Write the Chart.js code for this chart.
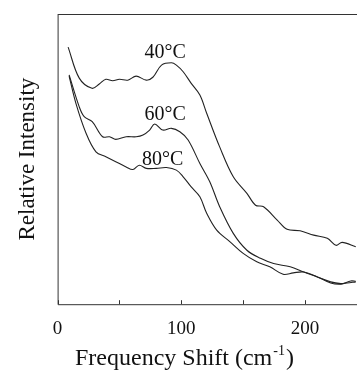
<!DOCTYPE html>
<html>
<head>
<meta charset="utf-8">
<script src="https://cdn.jsdelivr.net/npm/chart.js@4"></script>
<style>
  html, body { margin: 0; padding: 0; background: #fff; }
  #wrap { width: 357px; height: 375px; }
</style>
</head>
<body>
<div id="wrap"><canvas id="ramanChart"></canvas></div>
<script>
// Raman low-frequency spectra at three temperatures
const freq40 = [8.5, 17.5, 27.8, 33.7, 39, 44.5, 50, 56.7, 63.5, 71.7, 77, 84, 92, 96, 101.5, 108, 115, 120.5, 131, 142, 153, 160, 166.5, 177.5, 185.5, 196, 207, 218, 225, 230, 241];
const int40 = [88.6, 77.9, 74.4, 75.9, 77.5, 77.0, 77.5, 77.2, 78.6, 77.2, 78.2, 82.4, 83.2, 82.4, 80.1, 76.1, 72.1, 65.8, 54.2, 43.9, 38.2, 34.1, 33.6, 29.0, 25.8, 25.3, 23.8, 22.7, 20.3, 21.3, 19.8];

const freq60 = [9.3, 17.5, 21.5, 28, 36.4, 42, 47, 55.4, 63.5, 69, 74.4, 78.5, 85, 92, 98.8, 105.5, 115, 123, 131, 142, 153, 164, 174.6, 188, 199, 210, 220.7, 228.9, 234, 241];
const int60 = [79.0, 68.0, 64.6, 62.9, 57.7, 57.7, 56.8, 57.7, 57.7, 58.3, 60.0, 62.1, 60.0, 60.6, 59.4, 56.6, 48.5, 42.2, 33.6, 24.4, 18.6, 15.8, 14.0, 12.9, 11.1, 9.4, 7.7, 7.1, 7.3, 7.7];

const freq80 = [9.3, 14.8, 23, 31, 39, 47, 55.4, 60.8, 66, 71.7, 79.7, 88, 96, 101.5, 108, 115, 120.5, 128.6, 139.4, 150, 161, 171.5, 182.3, 190.5, 199, 210, 220.7, 229, 237, 241];
const int80 = [78.6, 69.2, 58.9, 52.5, 50.8, 49.1, 47.3, 46.4, 47.9, 46.8, 46.8, 47.1, 46.2, 43.9, 40.4, 37.0, 31.3, 25.5, 21.5, 17.5, 14.6, 12.9, 10.3, 10.8, 11.1, 9.4, 7.3, 6.9, 8.0, 7.9];

const seriesNames = ['40°C', '60°C', '80°C'];
// where each curve label sits, in data units
const labelFreq = [87, 87, 85];
const labelInt = [86.6, 65.2, 49.7];

const serif = '"Liberation Serif", "Times New Roman", serif';

function toPoints(xs, ys) {
    return xs.map((x, i) => ({ x: x, y: ys[i] }));
}

// frame, inward tick marks, x title with superscript, curve labels
const framePlugin = {
    id: 'frame',
    afterDraw(chart) {
        const ctx = chart.ctx;
        const a = chart.chartArea;
        const xs = chart.scales.x;
        ctx.save();
        ctx.strokeStyle = '#333';
        ctx.lineWidth = 1;
        ctx.beginPath();
        ctx.moveTo(a.left + 0.5, a.top + 0.5);
        ctx.lineTo(a.right, a.top + 0.5);
        ctx.moveTo(a.left + 0.5, a.top);
        ctx.lineTo(a.left + 0.5, a.bottom + 0.5);
        ctx.lineTo(a.right, a.bottom + 0.5);
        for (let v = 0; v <= 200; v += 50) {
            const px = Math.round(xs.getPixelForValue(v)) + 0.5;
            ctx.moveTo(px, a.bottom);
            ctx.lineTo(px, a.bottom - 4);
        }
        ctx.stroke();

        ctx.fillStyle = '#111';
        ctx.textBaseline = 'alphabetic';
        ctx.textAlign = 'left';
        // x axis title: Frequency Shift (cm^-1)
        const base = 365;
        let tx = 75;
        ctx.font = '24px ' + serif;
        ctx.fillText('Frequency Shift (cm', tx, base);
        tx += ctx.measureText('Frequency Shift (cm').width + 1;
        ctx.font = '14px ' + serif;
        ctx.fillText('-1', tx, base - 10);
        tx += ctx.measureText('-1').width + 1;
        ctx.font = '24px ' + serif;
        ctx.fillText(')', tx, base);

        ctx.font = '20px ' + serif;
        ctx.textAlign = 'center';
        ctx.textBaseline = 'middle';
        seriesNames.forEach((name, i) => {
            ctx.fillText(name, xs.getPixelForValue(labelFreq[i]), chart.scales.y.getPixelForValue(labelInt[i]));
        });
        ctx.restore();
    }
};

const ctx = document.getElementById('ramanChart').getContext('2d');
const ramanChart = new Chart(ctx, {
    type: 'line',
    data: {
        datasets: [
            { label: seriesNames[0], data: toPoints(freq40, int40) },
            { label: seriesNames[1], data: toPoints(freq60, int60) },
            { label: seriesNames[2], data: toPoints(freq80, int80) }
        ].map(d => Object.assign(d, {
            borderColor: '#222',
            borderWidth: 1.1,
            pointRadius: 0,
            tension: 0.35,
            fill: false
        }))
    },
    options: {
        responsive: true,
        maintainAspectRatio: false,
        animation: false,
        layout: { padding: { top: 14, left: 10, right: 0, bottom: 22 } },
        plugins: {
            legend: { display: false },
            tooltip: { enabled: false }
        },
        scales: {
            x: {
                type: 'linear',
                min: 0,
                max: 242,
                border: { display: false },
                grid: { display: false, drawTicks: false },
                ticks: {
                    stepSize: 50,
                    includeBounds: false,
                    maxRotation: 0,
                    padding: 13,
                    color: '#111',
                    font: { family: serif, size: 19 },
                    callback: v => (v % 100 === 0 ? v : '')
                }
            },
            y: {
                min: 0,
                max: 100,
                border: { display: false },
                grid: { display: false, drawTicks: false },
                ticks: { display: false },
                title: {
                    display: true,
                    text: 'Relative Intensity',
                    color: '#111',
                    font: { family: serif, size: 23 },
                    padding: { top: 4, bottom: 16 }
                }
            }
        }
    },
    plugins: [framePlugin]
});
</script>
</body>
</html>
